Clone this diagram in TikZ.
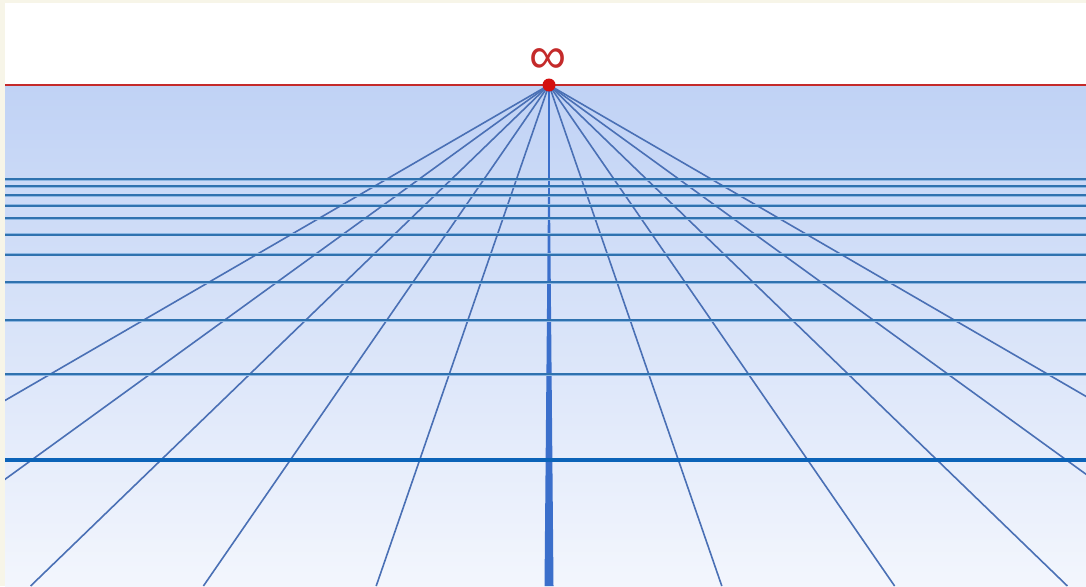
\documentclass[tikz,border=0pt]{standalone}
\usepackage{fontspec}
\newfontfamily\symfont{Liberation Sans}
\definecolor{cream}{HTML}{F7F5E8}
\definecolor{skytop}{HTML}{C0D2F5}
\definecolor{skymid}{HTML}{D8E3FA}
\definecolor{skybot}{HTML}{F3F6FD}
\definecolor{hzred}{HTML}{C42A2A}
\definecolor{dotred}{HTML}{D41010}
\definecolor{radblue}{HTML}{4A70B5}
\definecolor{hblue}{HTML}{2F72AF}
\definecolor{hblueedge}{HTML}{8DB6E2}
\definecolor{thickblue}{HTML}{0B63B8}
\definecolor{centerblue}{HTML}{3B6FCB}
\tikzset{
  radial/.style={draw=radblue, line width=1.6pt},
  hline/.style={draw=hblue, line width=2pt},
  hlineedge/.style={draw=hblueedge, line width=3pt},
  mainline/.style={draw=thickblue, line width=4.8pt},
  horizon/.style={draw=hzred, line width=1.8pt},
  vpdot/.style={circle, fill=dotred, inner sep=0pt, minimum size=13pt},
  inflabel/.style={text=hzred, font=\symfont\fontsize{52}{52}\selectfont, inner sep=0pt}
}
\begin{document}
\begin{tikzpicture}[x=1pt,y=-1pt]
\useasboundingbox (0,0) rectangle (1086,586);
\fill[cream] (0,0) rectangle (1086,586);
\fill[white] (5,3) rectangle (1086,85);
\shade[top color=skytop, middle color=skymid, bottom color=skybot] (5,85) rectangle (1086,586);
\coordinate (vp) at (549,85);
\coordinate (hl) at (5,85);
\coordinate (hr) at (1086,85);
\begin{scope}
\clip (5,85) rectangle (1086,586);
% radiating lines
\foreach \k in {-5,-4,-3,-2,-1,1,2,3,4,5}{
  \coordinate (g\k) at ({549+172.8*\k},586);
  \draw[radial] (vp) -- (g\k);
}
% centre line: perspective wedge
\coordinate (c0l) at (544.5,586);
\coordinate (c0r) at (553.5,586);
\fill[centerblue] (vp) -- (c0l) -- (c0r) -- cycle;
\coordinate (c0) at (549,586);
\draw[draw=centerblue, line width=1.6pt] (vp) -- (c0);
% depth lines
\foreach \y [count=\i] in {179,186,195,205.7,218,234.7,254.7,282.3,320,374}{
  \coordinate (dl\i) at (5,\y);
  \coordinate (dr\i) at (1086,\y);
  \draw[hlineedge] (dl\i) -- (dr\i);
  \draw[hline] (dl\i) -- (dr\i);
}
\coordinate (ml) at (5,460);
\coordinate (mr) at (1086,460);
\draw[mainline] (ml) -- (mr);
\end{scope}
\draw[horizon] (hl) -- (hr);
\node[vpdot] (dot) at (vp) {};
\node[inflabel] (inf) at (548,61) {∞};
\end{tikzpicture}
\end{document}
